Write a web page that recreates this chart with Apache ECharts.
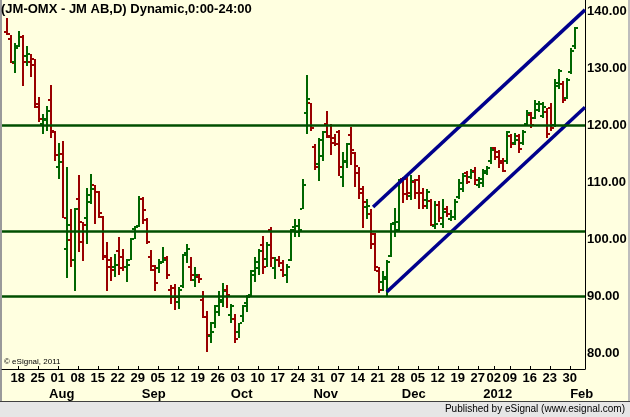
<!DOCTYPE html>
<html>
<head>
<meta charset="utf-8">
<script src="https://cdn.jsdelivr.net/npm/echarts@6/dist/echarts.min.js"></script>
<style>
html,body{margin:0;padding:0;background:#FFFFE0;}
#chart{width:630px;height:417px;}
</style>
</head>
<body>
<div id="chart"></div>
<script>
// ---- trading days (categories), plus two future slots on the axis ----
const dates = [
'2011-07-13','2011-07-14','2011-07-15','2011-07-18','2011-07-19','2011-07-20','2011-07-21','2011-07-22','2011-07-25','2011-07-26','2011-07-27','2011-07-28','2011-07-29',
'2011-08-01','2011-08-02','2011-08-03','2011-08-04','2011-08-05','2011-08-08','2011-08-09','2011-08-10','2011-08-11','2011-08-12','2011-08-15','2011-08-16','2011-08-17','2011-08-18','2011-08-19','2011-08-22','2011-08-23','2011-08-24','2011-08-25','2011-08-26','2011-08-29','2011-08-30','2011-08-31',
'2011-09-01','2011-09-02','2011-09-05','2011-09-06','2011-09-07','2011-09-08','2011-09-09','2011-09-12','2011-09-13','2011-09-14','2011-09-15','2011-09-16','2011-09-19','2011-09-20','2011-09-21','2011-09-22','2011-09-23','2011-09-26','2011-09-27','2011-09-28','2011-09-29','2011-09-30',
'2011-10-03','2011-10-04','2011-10-05','2011-10-06','2011-10-07','2011-10-10','2011-10-11','2011-10-12','2011-10-13','2011-10-14','2011-10-17','2011-10-18','2011-10-19','2011-10-20','2011-10-21','2011-10-24','2011-10-25','2011-10-26','2011-10-27','2011-10-28','2011-10-31',
'2011-11-01','2011-11-02','2011-11-03','2011-11-04','2011-11-07','2011-11-08','2011-11-09','2011-11-10','2011-11-11','2011-11-14','2011-11-15','2011-11-16','2011-11-17','2011-11-18','2011-11-21','2011-11-22','2011-11-23','2011-11-24','2011-11-25','2011-11-28','2011-11-29','2011-11-30',
'2011-12-01','2011-12-02','2011-12-05','2011-12-06','2011-12-07','2011-12-08','2011-12-09','2011-12-12','2011-12-13','2011-12-14','2011-12-15','2011-12-16','2011-12-19','2011-12-20','2011-12-21','2011-12-22','2011-12-23','2011-12-27','2011-12-28','2011-12-29','2011-12-30',
'2012-01-02','2012-01-03','2012-01-04','2012-01-05','2012-01-09','2012-01-10','2012-01-11','2012-01-12','2012-01-13','2012-01-16','2012-01-17','2012-01-18','2012-01-19','2012-01-20','2012-01-23','2012-01-24','2012-01-25','2012-01-26','2012-01-27','2012-01-30','2012-01-31',
'2012-02-01','2012-02-02'
];

// ---- OHLC values ----
const opens = [
136.3,135.0,131.1,133.9,135.5,132.1,131.0,131.6,123.1,120.2,120.9,124.4,118.8,
112.7,114.9,98.2,99.9,96.3,107.1,102.9,103.6,107.7,109.4,108.2,103.9,97.0,95.0,95.1,97.9,96.9,95.1,96.4,101.7,102.2,107.0,103.4,
96.8,94.6,94.9,96.0,96.6,91.1,91.4,88.9,91.8,97.6,95.0,92.8,93.4,89.3,86.4,83.0,85.3,87.2,88.9,91.1,86.7,86.0,
83.7,86.5,88.8,90.2,93.6,94.9,98.9,96.5,101.6,94.9,96.4,94.6,93.7,96.3,102.1,101.3,105.3,122.1,123.8,116.1,113.1,
114.6,120.1,117.9,117.7,118.8,110.8,113.5,118.2,115.1,111.5,108.0,105.6,104.4,100.8,94.4,92.5,93.4,97.0,102.8,101.5,110.5,110.6,
107.5,110.0,110.4,108.1,106.8,106.7,102.2,106.0,102.6,105.2,103.5,103.9,107.3,108.8,111.5,110.9,112.0,109.4,109.9,111.6,113.6,
116.0,115.3,113.6,113.6,118.1,116.9,118.0,116.9,120.2,121.8,121.3,122.6,121.6,122.3,123.0,120.0,126.8,127.2,124.8,129.3,133.8
];
const highs = [
138.7,135.8,134.4,136.5,135.8,133.9,132.5,131.6,124.9,121.9,123.3,127.0,118.9,
116.8,117.2,112.7,105.3,105.4,111.2,103.0,108.9,111.4,109.5,108.4,104.0,99.4,96.9,97.4,100.4,98.2,96.5,100.1,102.2,107.6,107.3,103.7,
98.0,95.5,96.5,98.6,97.0,91.9,92.1,91.5,97.4,99.1,96.8,95.0,93.9,90.8,87.4,85.5,88.4,90.9,92.2,92.0,88.6,86.8,
85.3,88.4,90.2,94.6,96.9,98.2,100.5,99.4,102.1,96.8,97.0,96.4,95.6,101.7,103.5,103.5,110.6,128.8,123.9,116.7,117.7,
118.9,122.5,120.2,118.4,119.1,115.3,116.8,119.6,115.3,112.6,109.3,107.1,105.2,101.0,95.1,94.3,96.3,102.8,105.4,110.6,110.9,111.2,
111.2,110.5,111.2,108.9,108.8,107.1,106.7,106.7,107.1,105.8,105.0,107.0,110.5,111.5,111.9,112.2,112.6,110.8,112.2,112.8,116.1,
116.1,115.6,114.2,119.0,118.4,118.6,118.4,119.1,122.6,122.2,124.3,124.2,124.0,123.0,123.8,128.1,129.9,127.8,128.2,133.5,137.2
];
const lows = [
135.8,130.8,129.2,133.7,126.9,130.4,128.5,123.0,120.6,118.5,119.0,117.8,113.7,
110.6,103.6,93.1,95.0,90.8,97.8,96.2,99.1,106.1,102.6,103.7,96.4,90.9,92.7,93.3,93.7,94.4,92.5,96.3,100.0,102.1,102.6,99.1,
94.3,90.8,94.0,95.7,93.0,88.6,87.5,87.8,91.4,95.7,92.7,91.5,92.2,86.1,80.1,81.8,84.3,86.5,88.1,87.9,85.3,81.8,
82.6,85.5,87.2,90.0,92.5,93.7,93.8,95.0,95.1,93.0,95.0,93.4,92.2,96.2,100.4,100.3,105.2,118.5,119.0,112.1,110.1,
113.6,117.7,114.7,116.3,111.1,109.2,112.4,113.0,109.2,107.1,102.0,103.5,98.2,94.3,90.6,90.9,89.9,96.9,100.3,101.4,106.4,106.8,
106.8,107.1,105.2,105.2,105.2,102.2,101.7,102.9,102.0,103.9,103.2,103.3,107.0,108.3,109.6,110.6,109.5,108.9,109.2,111.2,113.2,
113.9,112.5,111.7,113.2,115.9,116.5,115.1,116.5,119.8,119.4,121.0,122.2,121.2,117.7,118.9,119.6,126.3,123.8,124.5,128.9,133.4
];
const closes = [
135.9,130.9,133.5,135.4,131.1,132.4,130.5,123.7,121.0,121.1,122.5,118.9,114.7,
113.5,103.7,102.5,96.3,105.3,99.4,102.4,106.5,108.8,108.2,104.5,96.9,96.3,94.6,95.4,94.9,95.1,95.4,100.0,102.1,107.0,105.1,99.4,
95.3,92.2,95.7,96.3,93.6,89.8,89.9,91.1,97.2,98.2,93.7,93.6,92.9,86.4,83.2,83.7,88.2,89.3,90.8,90.2,88.2,82.4,
85.2,88.2,89.9,94.4,96.0,97.9,95.1,98.9,96.6,96.3,95.7,93.7,95.0,101.6,102.3,101.5,109.4,124.5,119.5,112.6,117.4,
118.8,118.0,116.8,116.7,112.6,113.6,116.7,115.6,112.8,108.7,106.5,105.8,99.1,95.1,91.1,93.0,96.0,102.6,102.9,110.4,107.9,108.0,
110.2,108.0,108.1,105.8,108.3,102.4,102.7,103.6,104.8,104.4,103.9,106.5,109.8,111.0,110.0,111.8,110.3,110.5,111.9,112.5,115.6,
114.4,113.3,112.0,118.7,116.6,117.4,115.8,118.8,122.1,120.0,123.7,123.6,123.2,118.5,119.5,127.4,129.5,124.4,127.9,133.0,137.0
];

// ---- drawn studies: horizontal levels and the rising channel ----
const levelLines = [120.0, 101.3, 90.0];
const upperChannel = [[91.6, 105.6], [144.575, 140.2]];
const lowerChannel = [[95.0, 90.7], [144.575, 123.1]];

// ---- tick labels ----
const priceTicks = [80, 90, 100, 110, 120, 130, 140];
const weekLabelDates = ['2011-07-18','2011-07-25','2011-08-01','2011-08-08','2011-08-15','2011-08-22','2011-08-29','2011-09-05','2011-09-12','2011-09-19','2011-09-26','2011-10-03','2011-10-10','2011-10-17','2011-10-24','2011-10-31','2011-11-07','2011-11-14','2011-11-21','2011-11-28','2011-12-05','2011-12-12','2011-12-19','2011-12-27','2012-01-02','2012-01-09','2012-01-16','2012-01-23','2012-01-30'];
const monthLabelDates = ['2011-08-01','2011-09-01','2011-10-03','2011-11-01','2011-12-01','2012-01-02','2012-02-01'];
const monthLabels = ['Aug','Sep','Oct','Nov','Dec','2012','Feb'];

const GREEN = '#006600', RED = '#990000', LEVEL = '#004F00', CHANNEL = '#00008C';
const FONT = '"Liberation Sans", Arial, sans-serif';

const weekIdx = weekLabelDates.map(d => dates.indexOf(d));
const weekText = {}; weekLabelDates.forEach((d, k) => { weekText[weekIdx[k]] = d.slice(8); });
const monthIdx = monthLabelDates.map(d => dates.indexOf(d));
const monthText = {}; monthIdx.forEach((ix, k) => { monthText[ix] = monthLabels[k]; });

const ohlc = opens.map((o, i) => [i, o, highs[i], lows[i], closes[i]]);
const lastClose = closes[closes.length - 1];

const X_MIN = -1.175, X_MAX = 144.575;

const chart = echarts.init(document.getElementById('chart'), null, {renderer: 'canvas'});
chart.setOption({
  backgroundColor: '#FFFFE0',
  animation: false,
  title: {
    text: '(JM-OMX - JM AB,D) Dynamic,0:00-24:00',
    left: 1, top: 3, padding: 0,
    textStyle: {fontSize: 13, fontWeight: 'bold', color: '#000', fontFamily: FONT}
  },
  grid: {left: 2, right: 45, top: 0, bottom: 48, containLabel: false, outerBoundsMode: 'none'},
  xAxis: [{
    type: 'value', min: X_MIN, max: X_MAX, position: 'bottom',
    axisLine: {show: true, onZero: false, lineStyle: {color: '#000', width: 1}},
    splitLine: {show: false},
    axisTick: {show: true, inside: true, length: 3, customValues: weekIdx, lineStyle: {color: '#000'}},
    axisLabel: {
      customValues: weekIdx, margin: 3, padding: [0, 2, 0, 0],
      formatter: v => weekText[v] || '',
      fontSize: 13, fontWeight: 'bold', color: '#000', fontFamily: FONT
    }
  }, {
    type: 'value', min: X_MIN, max: X_MAX, position: 'bottom', offset: 16,
    axisLine: {show: false}, axisTick: {show: false}, splitLine: {show: false},
    axisLabel: {
      customValues: monthIdx, margin: 3, padding: [0, 0, 0, 6],
      formatter: v => monthText[v] || '',
      fontSize: 13, fontWeight: 'bold', color: '#000', fontFamily: FONT
    }
  }],
  yAxis: {
    type: 'value', position: 'right', min: 77.19, max: 141.93, scale: true,
    axisLine: {show: true, onZero: false, lineStyle: {color: '#000', width: 1}},
    axisTick: {show: false}, splitLine: {show: false},
    axisLabel: {
      customValues: priceTicks, margin: 2,
      formatter: v => v.toFixed(2),
      fontSize: 13, fontWeight: 'bold', color: '#000', fontFamily: FONT
    }
  },
  series: [{
    type: 'custom',
    name: 'JM',
    xAxisIndex: 0,
    data: ohlc,
    encode: {x: 0, y: [1, 2, 3, 4]},
    clip: true,
    z: 2,
    renderItem: function (params, api) {
      const i = api.value(0), o = api.value(1), h = api.value(2), l = api.value(3), c = api.value(4);
      const pH = api.coord([i, h]), pL = api.coord([i, l]);
      const pO = api.coord([i, o]), pC = api.coord([i, c]);
      const X = Math.round(pH[0]);
      const color = c >= o ? GREEN : RED;
      const yh = Math.round(pH[1]), yl = Math.round(pL[1]);
      return {
        type: 'group',
        children: [
          {type: 'rect', shape: {x: X - 1, y: yh, width: 2, height: Math.max(1, yl - yh)}, style: {fill: color}},
          {type: 'rect', shape: {x: X - 3, y: Math.round(pO[1]) - 1, width: 2, height: 2}, style: {fill: color}},
          {type: 'rect', shape: {x: X + 1, y: Math.round(pC[1]) - 1, width: 2, height: 2}, style: {fill: color}}
        ]
      };
    }
  }, {
    type: 'line', name: 'upper', data: upperChannel, xAxisIndex: 0,
    symbol: 'none', silent: true, z: 4,
    lineStyle: {color: CHANNEL, width: 3.5},
    markLine: {
      silent: true, symbol: 'none', animation: false,
      lineStyle: {color: LEVEL, width: 2.5, type: 'solid'},
      label: {show: false},
      data: levelLines.map(v => ({yAxis: v}))
    }
  }, {
    type: 'line', name: 'lower', data: lowerChannel, xAxisIndex: 0,
    symbol: 'none', silent: true, z: 4,
    lineStyle: {color: CHANNEL, width: 3.5},
    markLine: {
      silent: true, symbol: 'none', animation: false,
      lineStyle: {opacity: 0},
      label: {
        show: true, position: 'end', distance: 1,
        formatter: () => lastClose.toFixed(2),
        color: '#FFFFE0', backgroundColor: '#0A5A0A',
        fontSize: 13, fontWeight: 'bold', fontFamily: FONT,
        padding: [1, 1, 0, 1]
      },
      data: [{yAxis: lastClose}]
    }
  }],
  graphic: [
    {type: 'rect', left: 0, top: 401, shape: {width: 630, height: 16}, style: {fill: '#E6E6E6'}, silent: true},
    {type: 'line', shape: {x1: 0, y1: 401.5, x2: 630, y2: 401.5}, style: {stroke: '#404040', lineWidth: 1}, silent: true},
    {type: 'line', shape: {x1: 1, y1: 0, x2: 1, y2: 401}, style: {stroke: '#9A9A9A', lineWidth: 2}, silent: true},
    {type: 'line', shape: {x1: 629, y1: 0, x2: 629, y2: 401}, style: {stroke: '#BDBDBD', lineWidth: 2}, silent: true},
    {type: 'text', left: 4, top: 358, style: {text: '\u00A9 eSignal, 2011', fontSize: 8, fill: '#000', fontFamily: FONT}, silent: true},
    {type: 'text', right: 5, top: 404, style: {text: 'Published by eSignal (www.esignal.com)', fontSize: 10, fill: '#000', fontFamily: FONT}, silent: true}
  ]
});
</script>
</body>
</html>
